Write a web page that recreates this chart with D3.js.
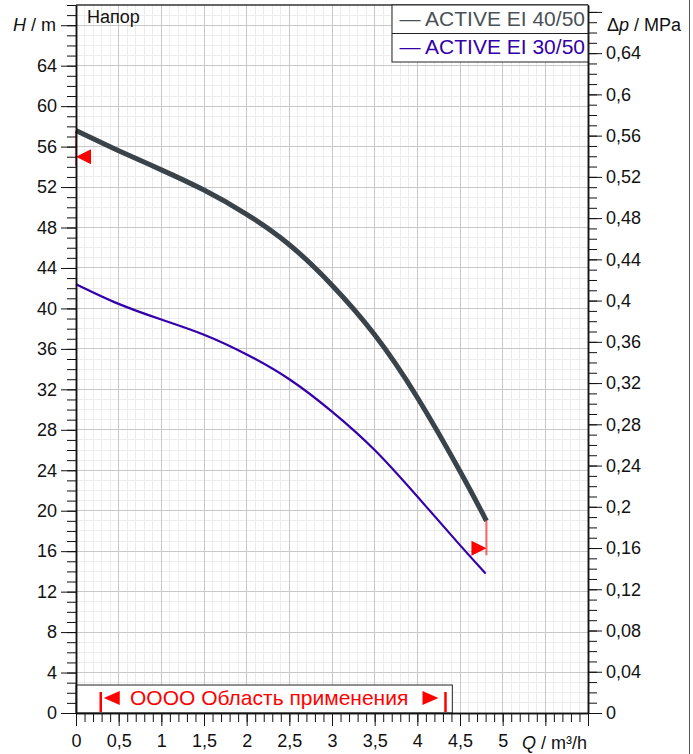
<!DOCTYPE html>
<html>
<head>
<meta charset="utf-8">
<script src="https://cdn.jsdelivr.net/npm/d3@7"></script>
<style>
  html, body { margin: 0; padding: 0; background: #fff; }
  svg { display: block; font-family: "Liberation Sans", Arial, sans-serif; }
</style>
</head>
<body>
<div id="chart"></div>
<script>
// pump curves
const flowQ = [0, 0.5, 1, 1.5, 2, 2.5, 3, 3.5, 4, 4.5, 4.81];
const headEI4050 = [57.6, 55.6, 53.7, 51.7, 49.3, 46.3, 42.3, 37.4, 31.2, 23.9, 19.0];
const flowQ3050 = [0, 0.5, 1, 1.5, 2, 2.5, 3, 3.5, 4, 4.5, 4.8];
const headEI3050 = [42.4, 40.45, 38.9, 37.4, 35.45, 33.0, 29.8, 26.0, 21.4, 16.6, 13.8];

const seriesNames = ["ACTIVE EI 40/50", "ACTIVE EI 30/50"];
const seriesColors = ["#3b434a", "#3300aa"];

// axis ticks
const xTicks = [0, 0.5, 1, 1.5, 2, 2.5, 3, 3.5, 4, 4.5, 5];
const hTicks = [0, 4, 8, 12, 16, 20, 24, 28, 32, 36, 40, 44, 48, 52, 56, 60, 64];
const pTicks = [0, 0.04, 0.08, 0.12, 0.16, 0.2, 0.24, 0.28, 0.32, 0.36, 0.4, 0.44, 0.48, 0.52, 0.56, 0.6, 0.64];
const mPerMPa = 1 / 0.00981;

// duty point markers (Q, H) and red limit lines
const markerQ = [0, 4.81];
const markerH = [55, 16.3];
const markerFromH = [57.6, 19.0];
const markerToH = [54.1, 15.6];

// operating range band
const rangeQ = [0.29, 4.33];
const rangeText = "OOOO Область применения";

const W = 693, H = 754;
const FS = 18;
const x = d3.scaleLinear().domain([0, 6]).range([76, 588]);
const y = d3.scaleLinear().domain([0, 70]).range([713, 5]);

const svg = d3.select("#chart").append("svg")
    .attr("width", W).attr("height", H);

// grid
const grid = svg.append("g");
grid.selectAll("line.vmin").data(d3.range(1, 60).map(i => i / 10).filter((d, i) => (i + 1) % 5 !== 0))
    .join("line")
    .attr("x1", d => x(d)).attr("x2", d => x(d))
    .attr("y1", y(70)).attr("y2", y(0))
    .attr("stroke", "#ececec").attr("shape-rendering", "crispEdges");
grid.selectAll("line.hmin").data(d3.range(1, 70).filter(d => d % 4 !== 0))
    .join("line")
    .attr("x1", x(0)).attr("x2", x(6))
    .attr("y1", d => y(d)).attr("y2", d => y(d))
    .attr("stroke", "#ececec").attr("shape-rendering", "crispEdges");
grid.selectAll("line.vmaj").data(d3.range(1, 12).map(i => i / 2))
    .join("line")
    .attr("x1", d => x(d)).attr("x2", d => x(d))
    .attr("y1", y(70)).attr("y2", y(0))
    .attr("stroke", "#c8c8c8").attr("shape-rendering", "crispEdges");
grid.selectAll("line.hmaj").data(d3.range(4, 70, 4))
    .join("line")
    .attr("x1", x(0)).attr("x2", x(6))
    .attr("y1", d => y(d)).attr("y2", d => y(d))
    .attr("stroke", "#c8c8c8").attr("shape-rendering", "crispEdges");

// top border
svg.append("line")
    .attr("x1", x(0)).attr("x2", x(6)).attr("y1", y(70)).attr("y2", y(70))
    .attr("stroke", "#333").attr("stroke-width", 1.5);

// outer frame at right edge
svg.append("line")
    .attr("x1", 689.5).attr("x2", 689.5).attr("y1", 0).attr("y2", H)
    .attr("stroke", "#555");

// curves
const line = d3.line().x(d => x(d[0])).y(d => y(d[1])).curve(d3.curveNatural);
const curveData = [
    flowQ.map((q, i) => [q, headEI4050[i]]),
    flowQ3050.map((q, i) => [q, headEI3050[i]])
];
svg.append("path").datum(curveData[1])
    .attr("d", line).attr("fill", "none")
    .attr("stroke", seriesColors[1]).attr("stroke-width", 2.2);
svg.append("path").datum(curveData[0])
    .attr("d", line).attr("fill", "none")
    .attr("stroke", seriesColors[0]).attr("stroke-width", 5);

// operating range box
const band = svg.append("g");
band.append("rect")
    .attr("x", x(0)).attr("y", 685)
    .attr("width", x(4.41) - x(0)).attr("height", y(0) - 685)
    .attr("fill", "#fff").attr("stroke", "#222");
rangeQ.forEach(q => {
    band.append("line")
        .attr("x1", x(q)).attr("x2", x(q)).attr("y1", 692).attr("y2", 712)
        .attr("stroke", "red").attr("stroke-width", 2.5);
});
band.append("path")
    .attr("d", `M${x(rangeQ[0]) + 3},698 l16,-7 l0,14 z`).attr("fill", "red");
band.append("path")
    .attr("d", `M${x(rangeQ[1]) - 7},698 l-16,-7 l0,14 z`).attr("fill", "red");
band.append("text")
    .attr("x", 130).attr("y", 705)
    .attr("font-size", 21).attr("fill", "red")
    .text(rangeText);

// duty point markers
markerQ.forEach((q, i) => {
    svg.append("line")
        .attr("x1", x(q)).attr("x2", x(q))
        .attr("y1", y(markerFromH[i])).attr("y2", y(markerToH[i]))
        .attr("stroke", "red").attr("stroke-opacity", 0.6).attr("stroke-width", 2);
    const dir = i === 0 ? 1 : -1;
    svg.append("path")
        .attr("d", `M${x(q)},${y(markerH[i])} l${15 * dir},-7.5 l0,15 z`)
        .attr("fill", "red");
});

// axes
const tickStyle = g => {
    g.selectAll("text").attr("font-size", FS).attr("fill", "#111")
        .attr("font-family", "'Liberation Sans', Arial, sans-serif");
    g.selectAll("line").attr("stroke", "#111");
    g.select(".domain").attr("stroke", "#111").attr("stroke-width", 1.5);
};

// left: H
svg.append("g").attr("transform", `translate(${x(0)},0)`)
    .call(d3.axisLeft(y).tickValues(d3.range(0, 71)).tickSize(9).tickSizeOuter(0).tickFormat(""))
    .call(tickStyle);
svg.append("g").attr("transform", `translate(${x(0)},0)`)
    .call(d3.axisLeft(y).tickValues(hTicks.concat([68])).tickSize(15).tickPadding(4).tickSizeOuter(0)
        .tickFormat(d => d === 68 ? "" : d))
    .call(tickStyle);

// right: delta p
const yp = d3.scaleLinear().domain([0, 70 / mPerMPa]).range([713, 5]);
svg.append("g").attr("transform", `translate(${x(6)},0)`)
    .call(d3.axisRight(yp).tickValues(d3.range(0, 69).map(i => i / 100)).tickSize(9).tickSizeOuter(0).tickFormat(""))
    .call(tickStyle);
svg.append("g").attr("transform", `translate(${x(6)},0)`)
    .call(d3.axisRight(yp).tickValues(pTicks.concat([0.68])).tickSize(14).tickPadding(4).tickSizeOuter(0)
        .tickFormat(d => d === 0.68 ? "" : String(+d.toFixed(2)).replace(".", ",")))
    .call(tickStyle);

// bottom: Q
svg.append("g").attr("transform", `translate(0,${y(0)})`)
    .call(d3.axisBottom(x).tickValues(d3.range(0, 61).map(i => i / 10)).tickSize(9).tickSizeOuter(0).tickFormat(""))
    .call(tickStyle);
svg.append("g").attr("transform", `translate(0,${y(0)})`)
    .call(d3.axisBottom(x).tickValues(xTicks.concat([5.5, 6])).tickSize(13).tickPadding(8).tickSizeOuter(0)
        .tickFormat(d => d > 5 ? "" : String(d).replace(".", ",")))
    .call(tickStyle);

// axis titles
const axTitle = (tx, ty, anchor, parts) => {
    const t = svg.append("text").attr("x", tx).attr("y", ty)
        .attr("text-anchor", anchor).attr("font-size", FS).attr("fill", "#111");
    parts.forEach(([s, it]) => t.append("tspan").attr("font-style", it ? "italic" : null).text(s));
};
axTitle(56, 31, "end", [["H", true], [" / m", false]]);
axTitle(607, 31, "start", [["Δ", false], ["p", true], [" / MPa", false]]);
axTitle(587, 749, "end", [["Q", true], [" / m³/h", false]]);

svg.append("text").attr("x", 87).attr("y", 23)
    .attr("font-size", 18).attr("fill", "#111").text("Напор");

// legend
const legend = svg.append("g");
legend.append("rect")
    .attr("x", 392).attr("y", 5).attr("width", x(6) - 392).attr("height", 57)
    .attr("fill", "#fff").attr("stroke", "#222");
legend.append("line")
    .attr("x1", 392).attr("x2", x(6)).attr("y1", 33.5).attr("y2", 33.5)
    .attr("stroke", "#222");
seriesNames.forEach((name, i) => {
    legend.append("text")
        .attr("x", 585).attr("y", 26 + i * 28)
        .attr("text-anchor", "end").attr("font-size", 21)
        .attr("fill", i === 0 ? "#4a5158" : seriesColors[1])
        .text("— " + name);
});
</script>
</body>
</html>
